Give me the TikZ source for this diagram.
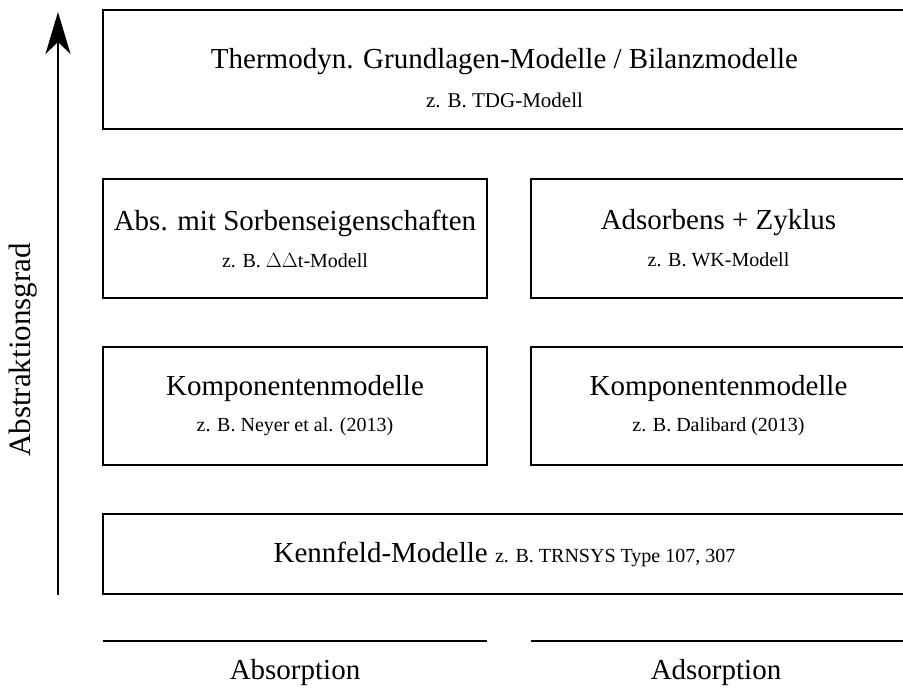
\documentclass[tikz,border=0pt]{standalone}
\usepackage{fontspec}
\setmainfont{Liberation Serif}
\usetikzlibrary{arrows.meta}
\usetikzlibrary{positioning}
\newcommand{\bigtxt}{\fontsize{29}{33}\selectfont}
\newcommand{\smalltxt}{\fontsize{20}{24}\selectfont}
\tikzset{x=1pt, y=1pt,
modelbox/.style={ % Sets the properties for each model box
draw,
line width=2pt,
align=center,
inner sep=0pt,
font=\bigtxt},
baseline/.style={ % lines under the columns
draw,
line width=2.5pt}}

\begin{document}
\begin{tikzpicture}
\useasboundingbox (0,0) rectangle (903,689);
\node[modelbox, minimum width=803, minimum height=119] (tdg) at (504.5,619.5)
  {\rule{0pt}{38pt}Thermodyn. Grundlagen-Modelle / Bilanzmodelle\\[6pt]{\fontsize{21}{24}\selectfont z. B. TDG-Modell}};
\node[modelbox, minimum width=384, minimum height=119] (absprop) at (295,450.5)
  {Abs. mit Sorbenseigenschaften\\[4pt]{\smalltxt z. B. $\Delta\Delta$t-Modell}};
\node[modelbox, minimum width=375, minimum height=119] (adscyc) at (718.5,450.5)
  {Adsorbens + Zyklus\\[4pt]{\smalltxt z. B. WK-Modell}};
\node[modelbox, minimum width=384, minimum height=118] (abscomp) at (295,283)
  {Komponentenmodelle\\[3pt]{\smalltxt z. B. Neyer et al. (2013)}};
\node[modelbox, minimum width=375, minimum height=118] (adscomp) at (718.5,283)
  {Komponentenmodelle\\[3pt]{\smalltxt z. B. Dalibard (2013)}};
\node[modelbox, minimum width=803, minimum height=80] (kennfeld) at (504.5,135)
  {Kennfeld-Modelle {\smalltxt z. B. TRNSYS Type 107, 307}};
% column lines and labels
\coordinate (absl) at (103,48);
\coordinate (absr) at (487,48);
\coordinate (adsl) at (531,48);
\coordinate (adsr) at (906,48);
\draw[baseline] (absl) -- (absr);
\draw[baseline] (adsl) -- (adsr);
\node[font=\bigtxt] (absorption) at (295,16) {Absorption};
\node[font=\bigtxt] (adsorption) at (716,16) {Adsorption};
% abstraction axis
\coordinate (axlow) at (58,94);
\coordinate (axtop) at (58,677);
\draw[line width=2pt, -{Stealth[length=42pt, width=25pt, inset=12pt]}] (axlow) -- (axtop);
\node[font=\fontsize{31}{35}\selectfont, rotate=90] (grad) at (23,339) {Abstraktionsgrad};
\end{tikzpicture}
\end{document}
